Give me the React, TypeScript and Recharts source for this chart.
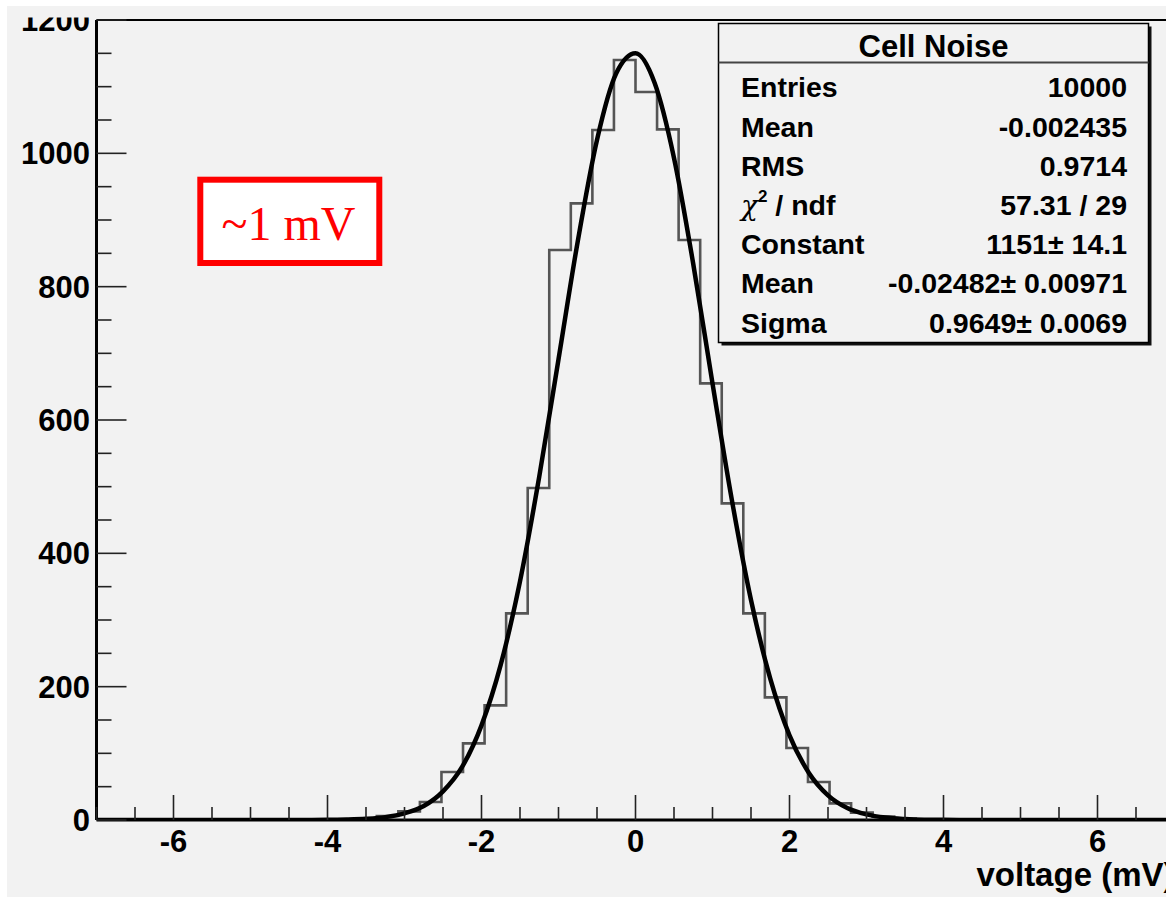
import React from 'react';
import { ComposedChart, Line, XAxis, YAxis, ReferenceLine } from 'recharts';

// ---------- data ----------
const BIN_EDGES = [
  -7, -6.72, -6.44, -6.16, -5.88, -5.6, -5.32, -5.04, -4.76, -4.48, -4.2, -3.92, -3.64,
  -3.36, -3.08, -2.8, -2.52, -2.24, -1.96, -1.68, -1.4, -1.12, -0.84, -0.56, -0.28, 0,
  0.28, 0.56, 0.84, 1.12, 1.4, 1.68, 1.96, 2.24, 2.52, 2.8, 3.08, 3.36, 3.64, 3.92, 4.2,
  4.48, 4.76, 5.04, 5.32, 5.6, 5.88, 6.16, 6.44, 6.72, 7,
];
const BIN_COUNTS = [
  0, 0, 0, 0, 0, 0, 0, 0, 0, 0, 0,
  1, 2, 6, 13, 27, 72, 115, 172, 310, 498, 855, 925, 1035, 1140,
  1092, 1036, 870, 655, 475, 310, 184, 108, 57, 25, 11, 5, 2, 1,
  0, 0, 0, 0, 0, 0, 0, 0, 0, 0, 0,
];
const FIT_X = [
  -7, -6, -5, -4.5, -4, -3.75, -3.5, -3.25, -3, -2.75, -2.5, -2.25, -2, -1.75, -1.5, -1.25,
  -1, -0.75, -0.5, -0.25, 0, 0.25, 0.5, 0.75, 1, 1.25, 1.5, 1.75, 2, 2.25, 2.5, 2.75, 3,
  3.25, 3.5, 3.75, 4, 4.5, 5, 6, 7,
];
const FIT_Y = [
  0, 0, 0, 0, 0.2, 0.7, 1.8, 4.3, 10, 21, 43, 80, 142, 233, 358, 515,
  691, 868, 1020, 1120, 1150, 1105, 993, 834, 655, 481, 330, 212, 127, 71, 37, 18, 8.4,
  3.6, 1.5, 0.5, 0.2, 0, 0, 0, 0,
];
const X_TICKS = [
  -7, -6.5, -6, -5.5, -5, -4.5, -4, -3.5, -3, -2.5, -2, -1.5, -1, -0.5, 0, 0.5, 1, 1.5, 2,
  2.5, 3, 3.5, 4, 4.5, 5, 5.5, 6, 6.5, 7,
];
const X_MAJOR = [-6, -4, -2, 0, 2, 4, 6];
const Y_TICKS = [
  0, 50, 100, 150, 200, 250, 300, 350, 400, 450, 500, 550, 600, 650, 700, 750, 800, 850,
  900, 950, 1000, 1050, 1100, 1150, 1200,
];
const Y_MAJOR = [0, 200, 400, 600, 800, 1000, 1200];

const STATS_TITLE = 'Cell Noise';
const STATS_LABELS = ['Entries', 'Mean', 'RMS', 'CHI', 'Constant', 'Mean', 'Sigma'];
const STATS_VALUES = [
  '10000', '-0.002435', '0.9714', '57.31 / 29', '1151\u00b1 14.1',
  '-0.02482\u00b1 0.00971', '0.9649\u00b1 0.0069',
];
const X_TITLE = 'voltage (mV)';
const NOTE = '~1 mV';

// ---------- layout ----------
const CHART_W = 1200;
const CHART_H = 897;
const PLOT_LEFT = 96.5;
const PLOT_RIGHT = 1174.5;
const PLOT_TOP = 20;
const PLOT_BOTTOM = 820;
const Y_AXIS_W = 60;
const X_AXIS_H = 40;
const FONT = '"Liberation Sans", Arial, Helvetica, sans-serif';
const BG = '#f2f2f2';

const histData = BIN_EDGES.map((x, i) => ({
  x,
  y: BIN_COUNTS[Math.min(i, BIN_COUNTS.length - 1)],
}));
const fitData = FIT_X.map((x, i) => ({ x, y: FIT_Y[i] }));

const XTick = (props: any) => {
  const { x, payload } = props;
  const v = payload.value;
  const major = X_MAJOR.includes(v);
  return (
    <g>
      <line x1={x} x2={x} y1={PLOT_BOTTOM} y2={PLOT_BOTTOM - (major ? 25 : 13)} stroke="#222" strokeWidth={1.6} />
      {major && (
        <text x={x} y={852} textAnchor="middle" fontFamily={FONT} fontWeight="bold" fontSize={31} fill="#000">
          {String(v)}
        </text>
      )}
    </g>
  );
};

const YTick = (props: any) => {
  const { y, payload } = props;
  const v = payload.value;
  const major = Y_MAJOR.includes(v);
  return (
    <g>
      <line x1={PLOT_LEFT} x2={PLOT_LEFT + (major ? 30 : 15)} y1={y} y2={y} stroke="#222" strokeWidth={1.6} />
      {major && (
        <text x={90} y={y + 11} textAnchor="end" fontFamily={FONT} fontWeight="bold" fontSize={31} fill="#000">
          {String(v)}
        </text>
      )}
    </g>
  );
};

const StatsBox = () => {
  const left = 718.5;
  const top = 23.5;
  const w = 430;
  const h = 319;
  return (
    <g>
      <rect x={left + 3} y={top + 3} width={w} height={h} fill="#111" />
      <rect x={left} y={top} width={w} height={h} fill={BG} stroke="#000" strokeWidth={1.5} />
      <line x1={left} x2={left + w} y1={62.5} y2={62.5} stroke="#444" strokeWidth={2} />
      <text x={left + w / 2} y={57} textAnchor="middle" fontFamily={FONT} fontWeight="bold" fontSize={31} fill="#000">
        {STATS_TITLE}
      </text>
      {STATS_LABELS.map((lab, i) => {
        const yy = 97.3 + 39.2 * i;
        return (
          <g key={i}>
            <text x={741} y={yy} fontFamily={FONT} fontWeight="bold" fontSize={28.5} fill="#000">
              {lab === 'CHI' ? (
                <>
                  <tspan fontFamily='"DejaVu Serif", serif' fontStyle="italic" fontWeight="normal" fontSize={28}>
                    {'\u03c7'}
                  </tspan>
                  <tspan dy={-13} fontSize={17}>2</tspan>
                  <tspan dy={13}>{' / ndf'}</tspan>
                </>
              ) : (
                lab
              )}
            </text>
            <text x={1127} y={yy} textAnchor="end" fontFamily={FONT} fontWeight="bold" fontSize={28.5} fill="#000">
              {STATS_VALUES[i]}
            </text>
          </g>
        );
      })}
    </g>
  );
};

export default function App() {
  return (
    <div style={{ position: 'absolute', left: 0, top: 0, width: 1166, height: 897, overflow: 'hidden', background: '#ffffff' }}>
      <div style={{ position: 'absolute', left: 7, top: 6, right: 0, bottom: 0, background: BG }} />
      <div style={{ position: 'absolute', left: 0, top: 0 }}>
        <ComposedChart
          width={CHART_W}
          height={CHART_H}
          margin={{
            top: PLOT_TOP,
            left: PLOT_LEFT - Y_AXIS_W,
            right: CHART_W - PLOT_RIGHT,
            bottom: CHART_H - PLOT_BOTTOM - X_AXIS_H,
          }}
        >
          <XAxis
            dataKey="x"
            type="number"
            domain={[-7, 7]}
            ticks={X_TICKS}
            interval={0}
            allowDataOverflow
            height={X_AXIS_H}
            tickLine={false}
            axisLine={{ stroke: '#000', strokeWidth: 3 }}
            tick={(p: any) => <XTick {...p} />}
          />
          <YAxis
            type="number"
            domain={[0, 1200]}
            ticks={Y_TICKS}
            interval={0}
            allowDataOverflow
            width={Y_AXIS_W}
            tickLine={false}
            axisLine={{ stroke: '#000', strokeWidth: 3 }}
            tick={(p: any) => <YTick {...p} />}
          />
          <ReferenceLine y={1200} stroke="#000" strokeWidth={2} />
          <ReferenceLine x={7} stroke="#000" strokeWidth={2} />
          <Line
            data={histData}
            dataKey="y"
            type="stepAfter"
            stroke="#555"
            strokeWidth={2.6}
            dot={false}
            activeDot={false}
            isAnimationActive={false}
          />
          <Line
            data={fitData}
            dataKey="y"
            type="monotone"
            stroke="#000"
            strokeWidth={4.5}
            dot={false}
            activeDot={false}
            isAnimationActive={false}
          />
        </ComposedChart>
      </div>
      <svg width={1166} height={897} style={{ position: 'absolute', left: 0, top: 0, pointerEvents: 'none' }}>
        <rect x={7} y={6} width={1159} height={11.5} fill={BG} />
        <StatsBox />
        <rect x={200.3} y={179.7} width={179} height={83.3} fill="#ffffff" stroke="#ff0000" strokeWidth={6} />
        <text x={288.5} y={240} textAnchor="middle" fontFamily='"Liberation Serif", "Times New Roman", serif' fontSize={48} fill="#ff0000">
          {NOTE}
        </text>
        <text x={PLOT_RIGHT} y={886} textAnchor="end" fontFamily={FONT} fontWeight="bold" fontSize={33} fill="#000">
          {X_TITLE}
        </text>
      </svg>
    </div>
  );
}
